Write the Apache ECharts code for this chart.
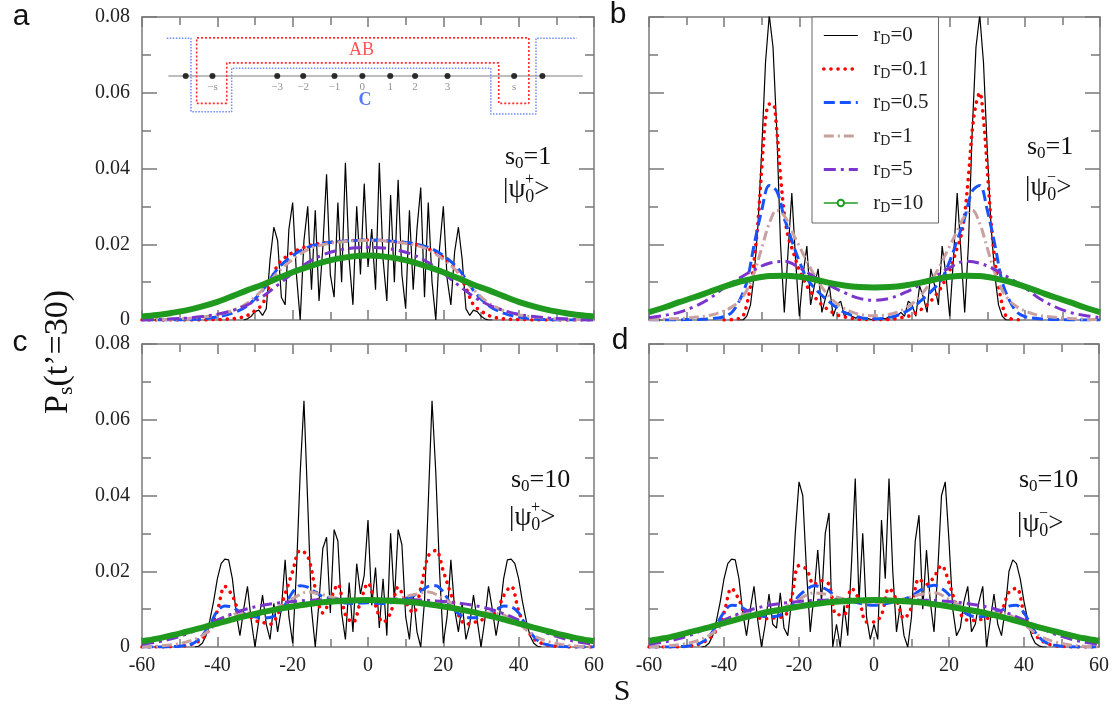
<!DOCTYPE html>
<html>
<head>
<meta charset="utf-8">
<title>P_s(t'=30)</title>
<script src="https://cdn.jsdelivr.net/npm/echarts/dist/echarts.min.js"></script>
<style>
  html, body { margin: 0; padding: 0; background: #fff; }
  #main { width: 1112px; height: 706px; }
</style>
</head>
<body>
<div id="main"></div>
<script>
// series names, one per decoherence rate
var names = ['rD=0', 'rD=0.1', 'rD=0.5', 'rD=1', 'rD=5', 'rD=10'];

// ---- panel a : s0=1, |psi0+> ----
var aR0 = [ // s = -33..33, step 1
  0, 0.0003, 0.001, 0.0022, 0.0026, 0.0012, 0.003, 0.016, 0.0245, 0.021,
  0.006, 0.004, 0.024, 0.031, 0.012, 0, 0.021, 0.03, 0.008, 0.029,
  0.005, 0.019, 0.0385, 0.012, 0.006, 0.031, 0.01, 0.0415, 0.016, 0.004,
  0.03, 0.012, 0.036, 0.014, 0.024, 0.008, 0.0415, 0.016, 0.005, 0.033,
  0.01, 0.037, 0.012, 0.003, 0.029, 0.008, 0.024, 0.035, 0.006, 0.031,
  0.01, 0, 0.019, 0.03, 0.011, 0.004, 0.018, 0.0245, 0.016, 0.003,
  0.0012, 0.0026, 0.0022, 0.001, 0.0003, 0, 0];
var aR01 = [ // s = -60..60, step 2
  0, 0, 0, 0, 0, 0, 0, 0, 0, 0.0001,
  0.0001, 0.0002, 0.0003, 0.0006, 0.0012, 0.0025, 0.0042, 0.0095, 0.0145, 0.0165,
  0.0178, 0.0188, 0.0195, 0.02, 0.0203, 0.0205, 0.0207, 0.0208, 0.021, 0.021,
  0.0211, 0.021, 0.021, 0.0208, 0.0206, 0.0204, 0.0201, 0.0196, 0.0188, 0.0178,
  0.0165, 0.0148, 0.0125, 0.0085, 0.004, 0.0024, 0.0012, 0.0006, 0.0003, 0.0002,
  0.0001, 0.0001, 0, 0, 0, 0, 0, 0, 0, 0,
  0];
var aR05 = [0, 0, 0, 0.0001, 0.0003, 0.0008, 0.0018, 0.0038, 0.0078, 0.0135, 0.017, 0.0192, 0.0202, 0.0207, 0.021, 0.0211,
  0.021, 0.0207, 0.0202, 0.0192, 0.017, 0.0135, 0.0078, 0.0038, 0.0018, 0.0008, 0.0003, 0.0001, 0, 0, 0];
var aR1 = [0, 0.0001, 0.0002, 0.0004, 0.0008, 0.0014, 0.0025, 0.0045, 0.008, 0.0125, 0.016, 0.0186, 0.0199, 0.0205, 0.0209, 0.021,
  0.0209, 0.0205, 0.0199, 0.0186, 0.016, 0.0125, 0.008, 0.0045, 0.0025, 0.0014, 0.0008, 0.0004, 0.0002, 0.0001, 0];
var aR5 = [0, 0.0001, 0.0003, 0.0005, 0.0009, 0.0015, 0.0025, 0.004, 0.0062, 0.0092, 0.0124, 0.0152, 0.0172, 0.0184, 0.019, 0.0192,
  0.019, 0.0184, 0.0172, 0.0152, 0.0124, 0.0092, 0.0062, 0.004, 0.0025, 0.0015, 0.0009, 0.0005, 0.0003, 0.0001, 0];
var aR10 = [0.0009, 0.0013, 0.0019, 0.0026, 0.0036, 0.0048, 0.0063, 0.0079, 0.0093, 0.011, 0.0126, 0.014, 0.0153, 0.0162, 0.0168, 0.017,
  0.0168, 0.0162, 0.0153, 0.014, 0.0126, 0.011, 0.0093, 0.0079, 0.0063, 0.0048, 0.0036, 0.0026, 0.0019, 0.0013, 0.0009];

// ---- panel b : s0=1, |psi0-> ----
var bR0 = [ // s = -36..36, step 1
  0, 0, 0.001, 0.004, 0.012, 0.025, 0.045, 0.068, 0.0805, 0.072,
  0.05, 0.02, 0.002, 0.018, 0.0335, 0.016, 0.001, 0.012, 0.0195, 0.004,
  0.009, 0.0135, 0.002, 0.006, 0.009, 0.001, 0.004, 0.005, 0.001, 0.002,
  0.001, 0.0005, 0.001, 0.0003, 0.0005, 0.0002, 0, 0.0002, 0.0005, 0.0003,
  0.001, 0.0005, 0.001, 0.002, 0.001, 0.005, 0.004, 0.001, 0.009, 0.006,
  0.002, 0.0135, 0.009, 0.004, 0.0195, 0.012, 0.001, 0.016, 0.0335, 0.018,
  0.002, 0.02, 0.05, 0.072, 0.0805, 0.068, 0.045, 0.025, 0.012, 0.004,
  0.001, 0, 0];
var bR01 = [ // s = -40..40, step 1
  0, 0, 0.0001, 0.0002, 0.0004, 0.001, 0.004, 0.009, 0.016, 0.026,
  0.04, 0.053, 0.057, 0.057, 0.05, 0.038, 0.028, 0.022, 0.019, 0.016,
  0.013, 0.011, 0.009, 0.0075, 0.0062, 0.005, 0.004, 0.0032, 0.0025, 0.0019,
  0.0014, 0.001, 0.0008, 0.0006, 0.0004, 0.0003, 0.0002, 0.0001, 0.0001, 0.0001,
  0.0001, 0.0001, 0.0001, 0.0001, 0.0002, 0.0003, 0.0004, 0.0006, 0.0008, 0.001,
  0.0014, 0.0019, 0.0025, 0.0032, 0.004, 0.005, 0.0062, 0.0075, 0.009, 0.011,
  0.013, 0.016, 0.019, 0.022, 0.028, 0.038, 0.05, 0.057, 0.06, 0.053,
  0.04, 0.026, 0.016, 0.009, 0.004, 0.001, 0.0004, 0.0002, 0.0001, 0,
  0];
var bR05 = [ // s = -60..60, step 2
  0, 0, 0, 0, 0, 0.0001, 0.0001, 0.0002, 0.0003, 0.0005,
  0.0009, 0.002, 0.005, 0.01, 0.02, 0.029, 0.0355, 0.034, 0.027, 0.021,
  0.0155, 0.011, 0.0085, 0.0065, 0.0048, 0.0032, 0.002, 0.0012, 0.0007, 0.0004,
  0.0003, 0.0004, 0.0007, 0.0012, 0.002, 0.0032, 0.0048, 0.0065, 0.0085, 0.011,
  0.0155, 0.021, 0.027, 0.034, 0.0355, 0.029, 0.02, 0.01, 0.005, 0.002,
  0.0009, 0.0005, 0.0003, 0.0002, 0.0001, 0.0001, 0, 0, 0, 0,
  0];
var bR1 = [ // s = -60..60, step 2
  0.0001, 0.0001, 0.0002, 0.0003, 0.0004, 0.0005, 0.0007, 0.0009, 0.0012, 0.0017,
  0.0024, 0.0034, 0.005, 0.0078, 0.0125, 0.019, 0.0255, 0.029, 0.0275, 0.0235,
  0.0195, 0.0155, 0.0118, 0.0087, 0.0062, 0.0043, 0.003, 0.0021, 0.0015, 0.0012,
  0.0011, 0.0012, 0.0015, 0.0021, 0.003, 0.0043, 0.0062, 0.0087, 0.0118, 0.0155,
  0.0195, 0.0235, 0.0275, 0.029, 0.0255, 0.019, 0.0125, 0.0078, 0.005, 0.0034,
  0.0024, 0.0017, 0.0012, 0.0009, 0.0007, 0.0005, 0.0004, 0.0003, 0.0002, 0.0001,
  0.0001];
var bR5 = [0.0006, 0.0012, 0.002, 0.0035, 0.0056, 0.0085, 0.011, 0.0133, 0.015, 0.0155, 0.0138, 0.0114, 0.0092, 0.0072, 0.0057, 0.0052,
  0.0057, 0.0072, 0.0092, 0.0114, 0.0138, 0.0155, 0.015, 0.0133, 0.011, 0.0085, 0.0056, 0.0035, 0.002, 0.0012, 0.0006];
var bR10 = [0.0021, 0.0033, 0.0047, 0.006, 0.0074, 0.0088, 0.0101, 0.011, 0.0116, 0.0117, 0.0114, 0.0107, 0.0098, 0.0091, 0.0087, 0.0086,
  0.0087, 0.0091, 0.0098, 0.0107, 0.0114, 0.0117, 0.0116, 0.011, 0.0101, 0.0088, 0.0074, 0.006, 0.0047, 0.0033, 0.0021];

// ---- panel c : s0=10, |psi0+> ----
var cR0 = [ // s = -46..46, step 1
  0, 0.0002, 0.001, 0.003, 0.007, 0.012, 0.018, 0.022, 0.0232, 0.023,
  0.018, 0.009, 0.003, 0.01, 0.016, 0.007, 0, 0.007, 0.0137, 0.006,
  0.002, 0.0115, 0.004, 0.01, 0.023, 0.008, 0.001, 0.02, 0.046, 0.065,
  0.038, 0.01, 0, 0.012, 0.026, 0.029, 0.009, 0.031, 0.028, 0.009,
  0.002, 0.017, 0.004, 0.022, 0.014, 0.019, 0.0335, 0.011, 0.021, 0.005,
  0.018, 0.003, 0.03, 0.012, 0.031, 0.027, 0.008, 0.002, 0.014, 0.004,
  0, 0.012, 0.038, 0.065, 0.046, 0.02, 0.001, 0.008, 0.023, 0.01,
  0.004, 0.0115, 0.002, 0.006, 0.0137, 0.007, 0, 0.007, 0.016, 0.01,
  0.003, 0.009, 0.018, 0.023, 0.0232, 0.022, 0.018, 0.012, 0.007, 0.003,
  0.001, 0.0002, 0];
var cR01 = [ // s = -60..60, step 2
  0, 0, 0, 0, 0.0001, 0.0002, 0.0004, 0.001, 0.0022, 0.005,
  0.0095, 0.016, 0.0135, 0.009, 0.0085, 0.007, 0.0065, 0.006, 0.0085, 0.014,
  0.02, 0.0255, 0.024, 0.0155, 0.009, 0.0125, 0.0165, 0.0085, 0.0065, 0.012,
  0.0168, 0.011, 0.0065, 0.009, 0.0158, 0.012, 0.009, 0.0155, 0.024, 0.0255,
  0.02, 0.014, 0.0085, 0.006, 0.0065, 0.007, 0.0085, 0.009, 0.0135, 0.016,
  0.0095, 0.005, 0.0022, 0.001, 0.0004, 0.0002, 0.0001, 0, 0, 0,
  0];
var cR05 = [ // s = -60..60, step 2
  0, 0, 0, 0, 0.0001, 0.0002, 0.0005, 0.0012, 0.003, 0.0058,
  0.0095, 0.0108, 0.0105, 0.0093, 0.0085, 0.008, 0.0077, 0.0078, 0.0088, 0.0112,
  0.0145, 0.0162, 0.0158, 0.0145, 0.0133, 0.0128, 0.0122, 0.0116, 0.0115, 0.0116,
  0.0117, 0.0116, 0.0115, 0.0117, 0.0122, 0.0128, 0.0135, 0.0147, 0.016, 0.0162,
  0.0145, 0.0112, 0.0088, 0.0078, 0.0077, 0.008, 0.0087, 0.0097, 0.0108, 0.0106,
  0.009, 0.0055, 0.0028, 0.0011, 0.0005, 0.0002, 0.0001, 0, 0, 0,
  0];
var cR1 = [0, 0.0002, 0.0006, 0.0014, 0.003, 0.0062, 0.0085, 0.009, 0.0093, 0.0105, 0.0128, 0.0145, 0.0138, 0.0128, 0.0122, 0.012,
  0.0122, 0.0128, 0.0138, 0.0145, 0.0128, 0.0105, 0.0093, 0.009, 0.0085, 0.0062, 0.003, 0.0014, 0.0006, 0.0002, 0];
var cR5 = [0.0007, 0.0013, 0.0022, 0.0035, 0.0052, 0.0071, 0.0088, 0.0101, 0.011, 0.0116, 0.012, 0.0123, 0.0125, 0.0126, 0.0126, 0.0126,
  0.0126, 0.0126, 0.0125, 0.0123, 0.012, 0.0116, 0.011, 0.0101, 0.0088, 0.0071, 0.0052, 0.0035, 0.0022, 0.0013, 0.0007];
var cR10 = [0.0015, 0.0022, 0.0031, 0.0041, 0.0051, 0.0062, 0.0073, 0.0083, 0.0092, 0.01, 0.0107, 0.0113, 0.0118, 0.0121, 0.0123, 0.0124,
  0.0123, 0.0121, 0.0118, 0.0113, 0.0107, 0.01, 0.0092, 0.0083, 0.0073, 0.0062, 0.0051, 0.0041, 0.0031, 0.0022, 0.0015];

// ---- panel d : s0=10, |psi0-> ----
var dR0 = [ // s = -46..46, step 1
  0, 0.0002, 0.001, 0.003, 0.007, 0.012, 0.018, 0.022, 0.0232, 0.023,
  0.018, 0.009, 0.003, 0.01, 0.016, 0.007, 0, 0.006, 0.014, 0.006,
  0.005, 0.0143, 0.005, 0.003, 0.012, 0.03, 0.0436, 0.04, 0.02, 0.004,
  0.014, 0.0256, 0.012, 0.03, 0.0354, 0, 0.006, 0, 0.011, 0.003,
  0.022, 0.0445, 0.012, 0.03, 0.008, 0.002, 0.006, 0.002, 0.0335, 0.018,
  0.0445, 0.02, 0.004, 0.011, 0.003, 0, 0.008, 0.028, 0.0348, 0.01,
  0.0256, 0.012, 0.004, 0.02, 0.04, 0.0436, 0.028, 0.01, 0.003, 0.005,
  0.012, 0.016, 0.004, 0.006, 0.012, 0.016, 0, 0.007, 0.014, 0.006,
  0.003, 0.01, 0.02, 0.023, 0.022, 0.018, 0.012, 0.007, 0.003, 0.001,
  0.0003, 0, 0];
var dR01 = [ // s = -60..60, step 2
  0, 0, 0, 0, 0, 0.0002, 0.0004, 0.001, 0.0022, 0.0045,
  0.009, 0.0155, 0.0125, 0.0085, 0.0085, 0.0075, 0.0075, 0.0078, 0.008, 0.013,
  0.0215, 0.0205, 0.0165, 0.0175, 0.0165, 0.0085, 0.0085, 0.0155, 0.0125, 0.0066,
  0.0066, 0.0085, 0.0155, 0.0125, 0.0075, 0.0105, 0.018, 0.0165, 0.0185, 0.0215,
  0.017, 0.011, 0.0075, 0.007, 0.0072, 0.0075, 0.0082, 0.0095, 0.0145, 0.0155,
  0.009, 0.0045, 0.0022, 0.001, 0.0004, 0.0002, 0, 0, 0, 0,
  0];
var dR05 = [ // s = -60..60, step 2
  0, 0, 0, 0, 0.0001, 0.0002, 0.0005, 0.0012, 0.0028, 0.0058,
  0.0092, 0.011, 0.0108, 0.0097, 0.0088, 0.0082, 0.008, 0.0081, 0.009, 0.0108,
  0.0135, 0.0152, 0.0162, 0.0158, 0.0148, 0.013, 0.0124, 0.0121, 0.0116, 0.0112,
  0.011, 0.0112, 0.0116, 0.0121, 0.0126, 0.0134, 0.0148, 0.0158, 0.0163, 0.0155,
  0.0138, 0.011, 0.0092, 0.0082, 0.008, 0.0082, 0.0088, 0.0097, 0.0108, 0.011,
  0.009, 0.0055, 0.0026, 0.0011, 0.0005, 0.0002, 0.0001, 0, 0, 0,
  0];
var dR1 = [0, 0.0002, 0.0006, 0.0014, 0.003, 0.006, 0.0085, 0.009, 0.0093, 0.0104, 0.0126, 0.0143, 0.0138, 0.0127, 0.012, 0.0117,
  0.012, 0.0127, 0.0138, 0.0143, 0.0126, 0.0104, 0.0093, 0.009, 0.0085, 0.006, 0.003, 0.0014, 0.0006, 0.0002, 0];
var dR5 = [0.0007, 0.0013, 0.0022, 0.0035, 0.0052, 0.0071, 0.0088, 0.0101, 0.011, 0.0116, 0.012, 0.0123, 0.0124, 0.0125, 0.0125, 0.0125,
  0.0125, 0.0125, 0.0124, 0.0123, 0.012, 0.0116, 0.011, 0.0101, 0.0088, 0.0071, 0.0052, 0.0035, 0.0022, 0.0013, 0.0007];
var dR10 = [0.0016, 0.0023, 0.0032, 0.0042, 0.0052, 0.0063, 0.0074, 0.0084, 0.0093, 0.01, 0.0107, 0.0113, 0.0118, 0.0121, 0.0123, 0.0124,
  0.0123, 0.0121, 0.0118, 0.0113, 0.0107, 0.01, 0.0093, 0.0084, 0.0074, 0.0063, 0.0052, 0.0042, 0.0032, 0.0023, 0.0016];

// ---- inset sketch in panel a (data units of panel a) ----
var insetLine = [[-53, 0.0644], [57, 0.0644]];
var insetDotS = [-48.4, -41.3, -24.1, -17.2, -8.9, -1.5, 5.9, 12.5, 21.1, 38.8, 46.3];
var insetDotLabels = ['', '\u2212s', '\u22123', '\u22122', '\u22121', '0', '1', '2', '3', 's', ''];
var insetAB = [[-37.5, 0.0572], [-45.5, 0.0572], [-45.5, 0.0745], [42.7, 0.0745], [42.7, 0.0572],
  [34.7, 0.0572], [34.7, 0.0679], [-37.5, 0.0679], [-37.5, 0.0572]];
var insetC = [[-53.4, 0.0744], [-47, 0.0744], [-47, 0.055], [-36.2, 0.055], [-36.2, 0.0665],
  [32.6, 0.0665], [32.6, 0.0544], [44.6, 0.0544], [44.6, 0.0744], [55.4, 0.0744]];

var serif = 'Liberation Serif';
var axisGrey = '#7a7a7a';

function pts(start, step, vals) {
  return vals.map(function (v, i) { return [start + i * step, v]; });
}

var lineStyles = [
  { color: '#000000', width: 1.2, type: 'solid' },
  { color: '#ff0000', width: 3.6, type: [0.1, 7], cap: 'round' },
  { color: '#1652ff', width: 3, type: [11, 5] },
  { color: '#c9a0a0', width: 3, type: [10, 4, 2, 4] },
  { color: '#7a35cc', width: 3, type: [12, 5, 3, 5] },
  { color: '#1f9a1f', width: 6, type: 'solid' }
];

function makeSeries(g, sets) {
  return sets.map(function (d, k) {
    var st = lineStyles[k];
    return {
      name: names[k], type: 'line', xAxisIndex: g, yAxisIndex: g,
      data: pts(d[0], d[1], d[2]),
      symbol: k === 5 ? 'emptyCircle' : 'none', showSymbol: false, symbolSize: 6,
      smooth: k === 0 ? false : 0.35,
      lineStyle: st, itemStyle: { color: st.color }, z: 2 + k, silent: true
    };
  });
}

var series = [].concat(
  makeSeries(0, [[-33, 1, aR0], [-60, 2, aR01], [-60, 4, aR05], [-60, 4, aR1], [-60, 4, aR5], [-60, 4, aR10]]),
  makeSeries(1, [[-36, 1, bR0], [-40, 1, bR01], [-60, 2, bR05], [-60, 2, bR1], [-60, 4, bR5], [-60, 4, bR10]]),
  makeSeries(2, [[-46, 1, cR0], [-60, 2, cR01], [-60, 2, cR05], [-60, 4, cR1], [-60, 4, cR5], [-60, 4, cR10]]),
  makeSeries(3, [[-46, 1, dR0], [-60, 2, dR01], [-60, 2, dR05], [-60, 4, dR1], [-60, 4, dR5], [-60, 4, dR10]])
);

// inset
series.push({
  type: 'line', xAxisIndex: 0, yAxisIndex: 0, data: insetLine, symbol: 'none', silent: true, z: 1,
  lineStyle: { color: '#a8a8a8', width: 1.5 }
});
series.push({
  type: 'line', xAxisIndex: 0, yAxisIndex: 0, data: insetAB, symbol: 'none', silent: true, z: 1,
  lineStyle: { color: '#ff2a2a', width: 1.6, type: [2, 2] }
});
series.push({
  type: 'line', xAxisIndex: 0, yAxisIndex: 0, data: insetC, symbol: 'none', silent: true, z: 1,
  lineStyle: { color: '#6d8cff', width: 1.5, type: [1.5, 1.5] }
});
series.push({
  type: 'scatter', xAxisIndex: 0, yAxisIndex: 0, silent: true, z: 3, symbolSize: 6,
  itemStyle: { color: '#000' },
  data: insetDotS.map(function (s, i) { return { value: [s, 0.0644], name: insetDotLabels[i] }; }),
  label: { show: true, position: 'bottom', distance: 3, formatter: '{b}', color: '#777',
    fontFamily: serif, fontSize: 11 }
});
series.push({
  type: 'scatter', xAxisIndex: 0, yAxisIndex: 0, silent: true, z: 3, symbolSize: 0,
  data: [{ value: [-1.7, 0.0711], name: 'AB' }],
  label: { show: true, position: 'inside', formatter: '{b}', color: '#ff2a2a', fontFamily: serif, fontSize: 18 }
});
series.push({
  type: 'scatter', xAxisIndex: 0, yAxisIndex: 0, silent: true, z: 3, symbolSize: 0,
  data: [{ value: [-0.8, 0.0579], name: 'C' }],
  label: { show: true, position: 'inside', formatter: '{b}', color: '#2a55ff', fontFamily: serif,
    fontSize: 18, fontWeight: 'bold' }
});

var grids = [
  { left: 142, top: 17, width: 452, height: 303 },
  { left: 649, top: 17, width: 451, height: 303 },
  { left: 142, top: 344, width: 452, height: 303 },
  { left: 649, top: 344, width: 451, height: 303 }
];

function xAxisFor(g, top, labels) {
  return {
    type: 'value', gridIndex: g, min: -60, max: 60, interval: 20, position: top ? 'top' : 'bottom',
    axisLine: { show: true, onZero: false, lineStyle: { color: axisGrey, width: 1.5 } },
    axisTick: { show: true, inside: true, length: 10, lineStyle: { color: axisGrey, width: 1.5 } },
    minorTick: { show: true, splitNumber: 2, length: 8, lineStyle: { color: axisGrey, width: 1.5 } },
    axisLabel: { show: labels, fontFamily: serif, fontSize: 20, color: '#222', margin: 9 },
    splitLine: { show: false }
  };
}
function yAxisFor(g, right, labels) {
  return {
    type: 'value', gridIndex: g, min: 0, max: 0.08, interval: 0.02, position: right ? 'right' : 'left',
    axisLine: { show: true, onZero: false, lineStyle: { color: axisGrey, width: 1.5 } },
    axisTick: { show: true, inside: true, length: 15, lineStyle: { color: axisGrey, width: 1.5 } },
    minorTick: { show: true, splitNumber: 2, length: 9, lineStyle: { color: axisGrey, width: 1.5 } },
    axisLabel: { show: labels, fontFamily: serif, fontSize: 20, color: '#222', margin: 12,
      formatter: function (v) { return v === 0 ? '0' : v.toFixed(2); } },
    splitLine: { show: false }
  };
}

var xAxes = [xAxisFor(0, false, false), xAxisFor(1, false, false), xAxisFor(2, false, true), xAxisFor(3, false, true),
  xAxisFor(0, true, false), xAxisFor(1, true, false), xAxisFor(2, true, false), xAxisFor(3, true, false)];
var yAxes = [yAxisFor(0, false, true), yAxisFor(1, false, false), yAxisFor(2, false, true), yAxisFor(3, false, false),
  yAxisFor(0, true, false), yAxisFor(1, true, false), yAxisFor(2, true, false), yAxisFor(3, true, false)];

function txt(x, y, text, size, extra) {
  var st = { text: text, fontFamily: serif, fontSize: size, fill: '#111', align: 'left', verticalAlign: 'middle',
    rich: { sub: { fontFamily: serif, fontSize: Math.round(size * 0.66), padding: [Math.round(size * 0.5), 0, 0, 0] } } };
  for (var k in extra) st[k] = extra[k];
  return { type: 'text', x: x, y: y, silent: true, style: st };
}

// panel annotation: s0=..., |psi0 +/- >
function note(x, y, y2, s0, sign) {
  return [
    txt(x, y, 's{sub|0}=' + s0, 26),
    txt(x - 2, y2, '|\u03c8{sub|0}>', 27),
    txt(x + 20, y2 - 10, sign, 16)
  ];
}

var graphic = [
  txt(21, 17, 'a', 30, { fontFamily: 'Liberation Sans', align: 'center' }),
  txt(618, 15, 'b', 30, { fontFamily: 'Liberation Sans', align: 'center' }),
  txt(20, 343, 'c', 30, { fontFamily: 'Liberation Sans', align: 'center' }),
  txt(620, 341, 'd', 30, { fontFamily: 'Liberation Sans', align: 'center' }),
  txt(622, 692, 'S', 30, { align: 'center' }),
  {
    type: 'text', x: 58, y: 352, rotation: Math.PI / 2, silent: true,
    style: { text: 'P{s|s}(t\u2019=30)', fontFamily: serif, fontSize: 34, fill: '#111', align: 'center', verticalAlign: 'middle',
      rich: { s: { fontFamily: serif, fontSize: 22, padding: [16, 0, 0, 0] } } }
  }
].concat(
  note(505, 157, 190, '1', '+'),
  note(1027, 147, 188, '1', '\u2212'),
  note(511, 480, 518, '10', '+'),
  note(1019, 480, 524, '10', '\u2212')
);

// legend entries with the same look as the series lines
var legendData = names.map(function (n, k) {
  var st = lineStyles[k];
  var ls = { color: st.color, width: k === 5 ? 1.5 : st.width, type: st.type, cap: st.cap || 'butt' };
  return {
    name: n, lineStyle: ls,
    itemStyle: k === 5 ? { color: st.color, borderColor: st.color, borderWidth: 1.5 } : { color: st.color, opacity: 0 }
  };
});

var chart = echarts.init(document.getElementById('main'), null, { renderer: 'canvas' });
chart.setOption({
  animation: false,
  backgroundColor: '#ffffff',
  grid: grids,
  xAxis: xAxes,
  yAxis: yAxes,
  legend: {
    orient: 'vertical', left: 812, top: 17, padding: [8, 10, 8, 10],
    itemWidth: 34, itemHeight: 8, itemGap: 11,
    borderColor: '#666', borderWidth: 1, backgroundColor: '#ffffff',
    selectedMode: false,
    data: legendData,
    formatter: function (n) { return '\u2002r{sub|D}' + n.slice(2); },
    textStyle: { fontFamily: serif, fontSize: 21, color: '#222',
      rich: { sub: { fontFamily: serif, fontSize: 14, padding: [10, 0, 0, 0] } } }
  },
  graphic: graphic,
  series: series
});
</script>
</body>
</html>
